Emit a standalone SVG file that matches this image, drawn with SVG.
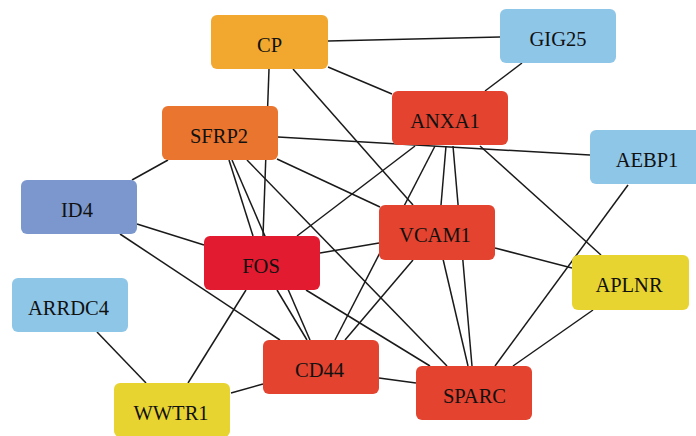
<svg xmlns="http://www.w3.org/2000/svg" width="696" height="436" viewBox="0 0 696 436">
<style>
.e line{stroke:#1a1a1a;stroke-width:1.5;fill:none}
.n rect{stroke:none}
.n text{font-family:"Liberation Serif","DejaVu Serif",serif;font-size:20.5px;fill:#111;text-anchor:middle}
.blue{fill:#8EC6E8}.red{fill:#E3432F}.yel{fill:#E8D431}
</style>
<rect width="696" height="436" fill="#ffffff"/>
<g id="edges" class="e">
<line x1="328" y1="41" x2="500" y2="37"/>
<line x1="328" y1="67" x2="392" y2="94"/>
<line x1="293" y1="69" x2="413" y2="205"/>
<line x1="269" y1="69" x2="263" y2="236"/>
<line x1="522" y1="63" x2="485" y2="91"/>
<line x1="168" y1="160" x2="132" y2="180"/>
<line x1="278" y1="137" x2="590" y2="155"/>
<line x1="277" y1="159" x2="380" y2="207"/>
<line x1="229" y1="160" x2="253" y2="236"/>
<line x1="232" y1="160" x2="310" y2="340"/>
<line x1="247" y1="160" x2="447" y2="366"/>
<line x1="137" y1="224" x2="204" y2="245"/>
<line x1="120" y1="234" x2="280" y2="340"/>
<line x1="97" y1="332" x2="146" y2="383"/>
<line x1="188" y1="383" x2="246" y2="290"/>
<line x1="231" y1="393" x2="263" y2="384"/>
<line x1="379" y1="378" x2="416" y2="383"/>
<line x1="320" y1="253" x2="379" y2="243"/>
<line x1="297" y1="236" x2="415" y2="146"/>
<line x1="306" y1="290" x2="430" y2="366"/>
<line x1="277" y1="290" x2="307" y2="340"/>
<line x1="435" y1="146" x2="335" y2="340"/>
<line x1="446" y1="146" x2="441" y2="205"/>
<line x1="453" y1="146" x2="472" y2="366"/>
<line x1="480" y1="146" x2="601" y2="255"/>
<line x1="413" y1="260" x2="345" y2="340"/>
<line x1="443" y1="259" x2="468" y2="366"/>
<line x1="495" y1="248" x2="572" y2="268"/>
<line x1="495" y1="366" x2="628" y2="185"/>
<line x1="513" y1="366" x2="593" y2="310"/>
</g>
<g id="CP" class="n"><rect x="211" y="15" width="117" height="54" rx="6" fill="#F2A82F"/><text x="269.5" y="51.5">CP</text></g>
<g id="GIG25" class="n"><rect x="500" y="9" width="116" height="54" rx="6" class="blue"/><text x="558" y="45.5">GIG25</text></g>
<g id="ANXA1" class="n"><rect x="392" y="91" width="116" height="54" rx="6" class="red"/><text x="445" y="127.5">ANXA1</text></g>
<g id="SFRP2" class="n"><rect x="162" y="106" width="116" height="54" rx="6" fill="#EA752E"/><text x="219" y="142.5">SFRP2</text></g>
<g id="AEBP1" class="n"><rect x="590" y="130" width="116" height="54" rx="6" class="blue"/><text x="647" y="166.5">AEBP1</text></g>
<g id="ID4" class="n"><rect x="21" y="180" width="116" height="54" rx="6" fill="#7B97CD"/><text x="77" y="216.5">ID4</text></g>
<g id="VCAM1" class="n"><rect x="379" y="205" width="116" height="55" rx="6" class="red"/><text x="435" y="241.5">VCAM1</text></g>
<g id="FOS" class="n"><rect x="204" y="236" width="116" height="54" rx="6" fill="#E21B30"/><text x="261" y="272.5">FOS</text></g>
<g id="ARRDC4" class="n"><rect x="12" y="278" width="116" height="54" rx="6" class="blue"/><text x="68.5" y="314.5">ARRDC4</text></g>
<g id="APLNR" class="n"><rect x="572" y="255" width="117" height="55" rx="6" class="yel"/><text x="629" y="291.5">APLNR</text></g>
<g id="CD44" class="n"><rect x="263" y="340" width="116" height="54" rx="6" class="red"/><text x="319.5" y="376.5">CD44</text></g>
<g id="WWTR1" class="n"><rect x="114" y="383" width="116" height="54" rx="6" class="yel"/><text x="171" y="419.5">WWTR1</text></g>
<g id="SPARC" class="n"><rect x="416" y="366" width="116" height="54" rx="6" class="red"/><text x="474.5" y="402.5">SPARC</text></g>
</svg>
